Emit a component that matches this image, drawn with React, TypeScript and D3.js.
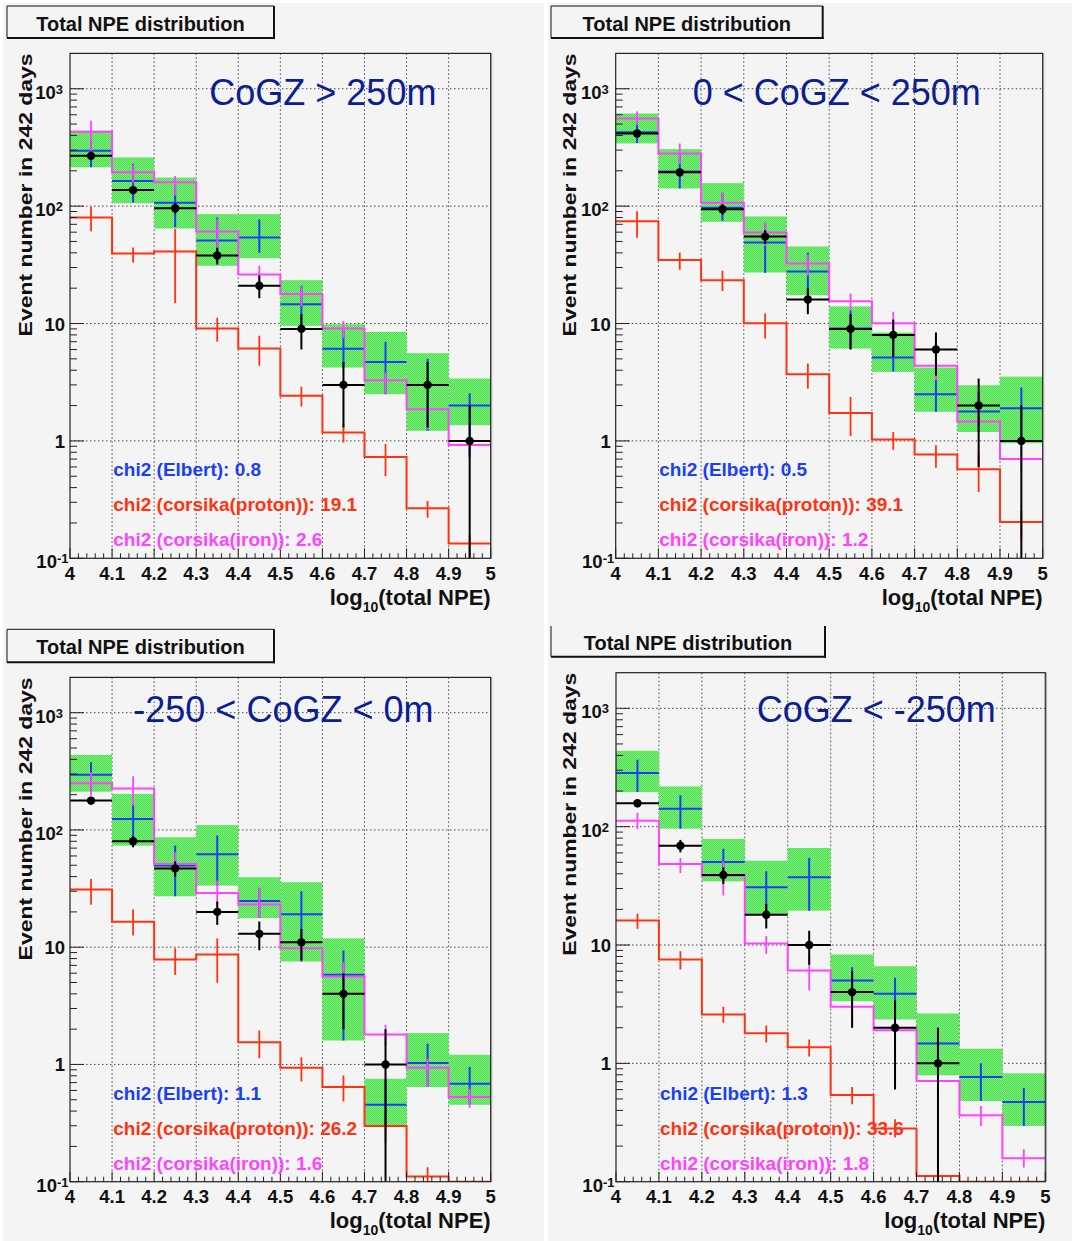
import React from 'react';
import * as d3 from 'd3';

// ---------- shared axis values ----------
const binEdges = [4.0, 4.1, 4.2, 4.3, 4.4, 4.5, 4.6, 4.7, 4.8, 4.9, 5.0];
const xTickLabels = ['4', '4.1', '4.2', '4.3', '4.4', '4.5', '4.6', '4.7', '4.8', '4.9', '5'];
const yMajorTicks = [0.1, 1, 10, 100, 1000];
const yMajorLabels: [string, string][] = [['10', '-1'], ['1', ''], ['10', ''], ['10', '2'], ['10', '3']];
const yDomain = [0.1, 2000];
const titleText = 'Total NPE distribution';
const yTitle = 'Event number in 242 days';
const chi2Names = ['chi2 (Elbert): ', 'chi2 (corsika(proton)): ', 'chi2 (corsika(iron)): '];
const regionLabels = ['CoGZ > 250m', '0 < CoGZ < 250m', '-250 < CoGZ < 0m', 'CoGZ < -250m'];

// ---------- panel 1: CoGZ > 250m ----------
const data1 = [268, 137, 96, 38, 21, 9, 3, 0, 3, 1];
const dataErr1 = [16.4, 11.7, 9.8, 6.2, 4.6, 3, 1.7, 0, 1.7, 1];
const elbert1 = [296, 164, 107, 51, 54, 14.6, 6.1, 4.7, 3.0, 2.0];
const elbertErr1 = [[214, 371], [107, 230], [66, 150], [33, 80], [40, 77], [9.5, 21], [4.2, 9], [2.5, 7.0], [1.22, 5.0], [0.72, 2.55]];
const band1 = [[214, 439], [106, 260], [64.5, 175], [31, 85.5], [36, 85.5], [9.55, 23.4], [4.22, 9.87], [2.5, 8.49], [1.22, 5.59], [1.36, 3.40]];
const proton1 = [80, 39.5, 41, 9.06, 6.12, 2.42, 1.18, 0.73, 0.267, 0.134];
const protonErr1 = [[61, 99], [33, 44.5], [14.9, 64], [7.0, 11.2], [4.36, 7.85], [1.96, 2.9], [0.97, 1.39], [0.5, 0.94], [0.222, 0.308], [0.1, 0.16]];
const iron1 = [430, 194, 160, 60.8, 26.2, 17.8, 9.06, 3.29, 1.86, 0.925];
const ironErr1 = [[296, 533], [159, 225], [123, 181], [40.3, 77.5], [21, 31], [14.1, 20.7], [7.5, 10.5], [2.5, 3.82], [1.26, 2.27], [0.745, 1.07]];
const chi2Values1 = [0.8, 19.1, 2.6];

// ---------- panel 2: 0 < CoGZ < 250m ----------
const data2 = [416, 194, 94, 55, 16, 9, 8, 6, 2, 1];
const dataErr2 = [20.4, 13.9, 9.7, 7.4, 4, 3, 2.8, 2.4, 1.4, 1];
const elbert2 = [425, 197, 97, 49, 27.7, 9.06, 5.13, 2.5, 1.78, 1.9];
const elbertErr2 = [[345, 520], [141, 280], [75, 130], [27, 70], [17.5, 40], [6.1, 13], [3.9, 7.5], [1.77, 3.5], [1.2, 2.6], [0.96, 2.85]];
const band2 = [[342, 616], [141.5, 306], [73.5, 157], [27.2, 81.7], [17.4, 45.3], [6.12, 14], [3.87, 8.38], [1.77, 4.22], [1.19, 2.98], [0.955, 3.53]];
const proton2 = [74.5, 34.7, 23.4, 10.07, 3.70, 1.73, 1.03, 0.765, 0.573, 0.204];
const protonErr2 = [[53.7, 90.6], [28.7, 40.3], [18.9, 28.1], [7.45, 12.2], [2.79, 4.56], [1.10, 2.37], [0.84, 1.19], [0.59, 0.92], [0.367, 0.80], [0.145, 0.253]];
const iron2 = [559, 281, 107, 59.7, 32.5, 15.5, 10.07, 4.36, 1.46, 0.70];
const ironErr2 = [[490, 641], [229, 342], [99, 131], [45.9, 73.5], [25.5, 39], [12.8, 18], [7.6, 12.6], [3.3, 5.66], [1.18, 1.86], [0.555, 0.906]];
const chi2Values2 = [0.5, 39.1, 1.2];

// ---------- panel 3: -250 < CoGZ < 0m ----------
const data3 = [178, 80, 47, 20, 13, 11, 4, 1, 0, 0];
const dataErr3 = [13.3, 8.9, 6.9, 4.5, 3.6, 3.3, 2, 1, 0, 0];
const elbert3 = [296, 124, 49.7, 62.1, 24.8, 19.1, 5.81, 0.453, 1.03, 0.684];
const elbertErr3 = [[212, 378], [73.5, 167], [27.2, 73.5], [33.5, 89.5], [17.7, 32], [7.55, 30], [1.6, 9.37], [0.302, 0.755], [0.641, 1.5], [0.453, 0.95]];
const band3 = [[212, 436], [73.5, 203], [27.2, 86.6], [33.5, 110], [17.7, 39.5], [7.55, 35.8], [1.6, 11.9], [0.302, 0.755], [0.641, 1.85], [0.453, 1.21]];
const proton3 = [31, 16.5, 7.85, 8.66, 1.55, 0.937, 0.641, 0.298, 0.111, 0.1];
const protonErr3 = [[23, 38.2], [12.6, 21], [5.8, 9.8], [4.97, 11.9], [1.13, 1.95], [0.716, 1.15], [0.484, 0.805], [0.218, 0.38], [0.1, 0.133], [0.1, 0.1]];
const iron3 = [250, 226, 51.3, 29, 23.1, 9.8, 5.62, 1.8, 0.937, 0.527];
const ironErr3 = [[196, 310], [161, 287], [40.8, 64.5], [23, 37], [17.7, 32.4], [7.55, 13], [4.2, 7.45], [1.45, 2.18], [0.641, 1.12], [0.425, 0.621]];
const chi2Values3 = [1.1, 26.2, 1.6];

// ---------- panel 4: CoGZ < -250m ----------
const data4 = [158, 69, 39, 18, 10, 4, 2, 1, 0, 0];
const dataErr4 = [12.6, 8.3, 6.2, 4.2, 3.2, 2, 1.4, 1, 0, 0];
const elbert4 = [284, 142, 50.4, 30.8, 37.3, 5.01, 3.88, 1.47, 0.766, 0.471];
const elbertErr4 = [[196, 368], [96, 184], [34.5, 65], [18.1, 42], [19.5, 54.5], [3.36, 6.5], [2.35, 5.29], [0.79, 2.0], [0.481, 1.0], [0.296, 0.62]];
const band4 = [[196, 438], [96.2, 219], [34.5, 78.8], [18.1, 51.6], [19.5, 66.1], [3.36, 8.31], [2.35, 6.62], [0.792, 2.64], [0.481, 1.33], [0.296, 0.824]];
const proton4 = [16.1, 7.55, 2.59, 1.80, 1.37, 0.54, 0.281, 0.112, 0.1, 0.1];
const protonErr4 = [[13.7, 18.4], [6.21, 8.87], [2.2, 3.01], [1.5, 2.09], [1.14, 1.59], [0.451, 0.631], [0.236, 0.337], [0.1, 0.136], [0.1, 0.1], [0.1, 0.1]];
const iron4 = [112, 48.4, 38.6, 10.3, 6.09, 3.01, 1.90, 0.709, 0.364, 0.158];
const ironErr4 = [[95.6, 131], [40.6, 54.4], [26.2, 51], [8.43, 11.9], [4.13, 8.04], [2.0, 3.82], [1.5, 2.35], [0.575, 0.861], [0.296, 0.436], [0.132, 0.188]];
const chi2Values4 = [1.3, 33.6, 1.8];

// ---------- layout (positions / styles only) ----------
const FONT = '"Liberation Sans", Arial, Helvetica, sans-serif';
const C_BLUE = '#1a40f5';
const C_RED = '#ff3311';
const C_MAG = '#ff44ff';
const C_NAVY = '#0b2090';

const layouts = [
  { x0: 70, x1: 490.7, y0: 53.4, y1: 558.3, box: { x: 7, y: 6, w: 267, h: 32, top: true }, titleY: 30.7, yTitleX: 32, region: { x: 209.3, y: 105 }, chi2X: 113.3 },
  { x0: 615.7, x1: 1042.7, y0: 53.4, y1: 558.3, box: { x: 551, y: 6, w: 271.7, h: 32, top: true }, titleY: 30.7, yTitleX: 575.5, region: { x: 692.7, y: 105 }, chi2X: 659.3 },
  { x0: 70, x1: 490.7, y0: 677.4, y1: 1181.7, box: { x: 7, y: 629.3, w: 267, h: 33, top: true }, titleY: 654, yTitleX: 31.5, region: { x: 133.3, y: 721.7 }, chi2X: 113.3 },
  { x0: 616, x1: 1045.3, y0: 672.7, y1: 1181.7, box: { x: 551, y: 626, w: 274, h: 30.7, top: false }, titleY: 650, yTitleX: 576, region: { x: 756.7, y: 721.7 }, chi2X: 660 },
];

const panels = [
  { data: data1, dataErr: dataErr1, elbert: elbert1, elbertErr: elbertErr1, band: band1, proton: proton1, protonErr: protonErr1, iron: iron1, ironErr: ironErr1, chi2: chi2Values1, region: regionLabels[0] },
  { data: data2, dataErr: dataErr2, elbert: elbert2, elbertErr: elbertErr2, band: band2, proton: proton2, protonErr: protonErr2, iron: iron2, ironErr: ironErr2, chi2: chi2Values2, region: regionLabels[1] },
  { data: data3, dataErr: dataErr3, elbert: elbert3, elbertErr: elbertErr3, band: band3, proton: proton3, protonErr: protonErr3, iron: iron3, ironErr: ironErr3, chi2: chi2Values3, region: regionLabels[2] },
  { data: data4, dataErr: dataErr4, elbert: elbert4, elbertErr: elbertErr4, band: band4, proton: proton4, protonErr: protonErr4, iron: iron4, ironErr: ironErr4, chi2: chi2Values4, region: regionLabels[3] },
];

function Panel({ L, P, idx }: any) {
  const x = d3.scaleLinear().domain([4, 5]).range([L.x0, L.x1]);
  const y = d3.scaleLog().domain(yDomain).range([L.y1, L.y0]).clamp(true);
  const centers = d3.pairs(binEdges).map(([a, b]) => (a + b) / 2);
  const clipId = `clip${idx}`;

  const step = (vals: number[]) => {
    const pts: [number, number][] = vals.map((v, i) => [binEdges[i], v]);
    pts.push([binEdges[binEdges.length - 1], vals[vals.length - 1]]);
    return d3.line<[number, number]>().x(d => x(d[0])).y(d => y(Math.max(d[1], 0.1))).curve(d3.curveStepAfter)(pts) || '';
  };

  const minorY: number[] = [];
  yMajorTicks.forEach(d => { for (let k = 2; k <= 9; k++) { const v = k * d; if (v < yDomain[1]) minorY.push(v); } });
  const minorX = d3.range(0, 51).map(i => 4 + i * 0.02);

  const colors = [C_BLUE, C_RED, C_MAG];

  return (
    <g>
      <defs>
        <clipPath id={clipId}><rect x={L.x0} y={L.y0} width={L.x1 - L.x0} height={L.y1 - L.y0} /></clipPath>
      </defs>
      {/* title box */}
      <g>
        <rect x={L.box.x} y={L.box.y} width={L.box.w} height={L.box.h} fill="#f4f4f4" stroke="none" />
        {L.box.top && <line x1={L.box.x} x2={L.box.x + L.box.w} y1={L.box.y} y2={L.box.y} stroke="#111" strokeWidth={1} />}
        <line x1={L.box.x} x2={L.box.x} y1={L.box.y} y2={L.box.y + L.box.h} stroke="#111" strokeWidth={1} />
        <line x1={L.box.x + L.box.w} x2={L.box.x + L.box.w} y1={L.box.y} y2={L.box.y + L.box.h + 1} stroke="#111" strokeWidth={2} />
        <line x1={L.box.x} x2={L.box.x + L.box.w + 1} y1={L.box.y + L.box.h} y2={L.box.y + L.box.h} stroke="#111" strokeWidth={2} />
        <text x={L.box.x + L.box.w / 2} y={L.titleY} textAnchor="middle" fontFamily={FONT} fontWeight="bold" fontSize={20} fill="#111">{titleText}</text>
      </g>

      {/* grid */}
      <g stroke="#444" strokeWidth={1} strokeDasharray="1.5 2.5">
        {binEdges.slice(1, -1).map((v, i) => <line key={'gx' + i} x1={x(v)} x2={x(v)} y1={L.y0} y2={L.y1} />)}
        {yMajorTicks.slice(1).map((v, i) => <line key={'gy' + i} x1={L.x0} x2={L.x1} y1={y(v)} y2={y(v)} />)}
      </g>

      <g clipPath={`url(#${clipId})`}>
        {/* Elbert systematic band */}
        {P.band.map((b: number[], i: number) => (
          <rect key={'b' + i} x={x(binEdges[i])} width={x(binEdges[i + 1]) - x(binEdges[i])} y={y(b[1])} height={y(b[0]) - y(b[1])} fill="url(#greenDither)" />
        ))}
        {/* Elbert */}
        {P.elbert.map((v: number, i: number) => (
          <g key={'e' + i} stroke={C_BLUE} strokeWidth={2}>
            <line x1={x(binEdges[i])} x2={x(binEdges[i + 1])} y1={y(v)} y2={y(v)} />
            <line x1={x(centers[i])} x2={x(centers[i])} y1={y(P.elbertErr[i][0])} y2={y(P.elbertErr[i][1])} />
          </g>
        ))}
        {/* proton */}
        <path d={step(P.proton)} fill="none" stroke={C_RED} strokeWidth={2} />
        {P.protonErr.map((e: number[], i: number) => (
          <line key={'pe' + i} x1={x(centers[i])} x2={x(centers[i])} y1={y(e[0])} y2={y(e[1])} stroke={C_RED} strokeWidth={1.8} />
        ))}
        {/* iron */}
        <path d={step(P.iron)} fill="none" stroke={C_MAG} strokeWidth={2} />
        {P.ironErr.map((e: number[], i: number) => (
          <line key={'ie' + i} x1={x(centers[i])} x2={x(centers[i])} y1={y(e[0])} y2={y(e[1])} stroke={C_MAG} strokeWidth={1.8} />
        ))}
        {/* data */}
        {P.data.map((v: number, i: number) => v > 0 && (
          <g key={'d' + i} stroke="#000" strokeWidth={2}>
            <line x1={x(binEdges[i])} x2={x(binEdges[i + 1])} y1={y(v)} y2={y(v)} />
            <line x1={x(centers[i])} x2={x(centers[i])} y1={y(Math.max(v - P.dataErr[i], 0.01))} y2={y(v + P.dataErr[i])} />
            <circle cx={x(centers[i])} cy={y(v)} r={4.2} fill="#000" stroke="none" />
          </g>
        ))}
      </g>

      {/* frame */}
      <rect x={L.x0} y={L.y0} width={L.x1 - L.x0} height={L.y1 - L.y0} fill="none" stroke="#222" strokeWidth={1.2} />
      <line x1={L.x1 + 1} x2={L.x1 + 1} y1={L.y0} y2={L.y1} stroke="#999" strokeWidth={1} />

      {/* y ticks */}
      <g stroke="#222" strokeWidth={1}>
        {yMajorTicks.map((v, i) => <line key={'ym' + i} x1={L.x0} x2={L.x0 + 14} y1={y(v)} y2={y(v)} />)}
        {minorY.map((v, i) => <line key={'yn' + i} x1={L.x0} x2={L.x0 + 7} y1={y(v)} y2={y(v)} />)}
      </g>
      {/* x ticks */}
      <g stroke="#222" strokeWidth={1}>
        {minorX.map((v, i) => <line key={'xn' + i} x1={x(v)} x2={x(v)} y1={L.y1} y2={L.y1 - (i % 5 === 0 ? 10 : 5)} />)}
      </g>

      {/* y tick labels */}
      {yMajorTicks.map((v, i) => {
        const [base, exp] = yMajorLabels[i];
        if (!exp) {
          return <text key={'yl' + i} x={L.x0 - 5} y={y(v) + 7} textAnchor="end" fontFamily={FONT} fontWeight="bold" fontSize={18.5} fill="#111">{base}</text>;
        }
        return (
          <text key={'yl' + i} x={L.x0 - (exp.length > 1 ? 1.5 : 7)} y={y(v) + 10} textAnchor="end" fontFamily={FONT} fontWeight="bold" fontSize={18.5} fill="#111">
            {base}<tspan dy={-5} fontSize={13}>{exp}</tspan>
          </text>
        );
      })}
      {/* x tick labels */}
      {binEdges.map((v, i) => (
        <text key={'xl' + i} x={x(v)} y={L.y1 + 21.7} textAnchor="middle" fontFamily={FONT} fontWeight="bold" fontSize={18.5} fill="#111">{xTickLabels[i]}</text>
      ))}
      {/* x title */}
      <text x={L.x1} y={L.y1 + 46.7} textAnchor="end" fontFamily={FONT} fontWeight="bold" fontSize={22} fill="#111">
        log<tspan dy={7} fontSize={14}>10</tspan><tspan dy={-7}>(total NPE)</tspan>
      </text>
      {/* y title */}
      <text transform={`translate(${L.yTitleX},${L.y0}) rotate(-90)`} textAnchor="end" fontFamily={FONT} fontWeight="bold" fontSize={19} fill="#111" textLength={283} lengthAdjust="spacingAndGlyphs">{yTitle}</text>

      {/* region label */}
      <text x={L.region.x} y={L.region.y} fontFamily={FONT} fontSize={36} fill={C_NAVY}>{P.region}</text>

      {/* chi2 texts */}
      {P.chi2.map((c: number, i: number) => (
        <text key={'c' + i} x={L.chi2X} y={L.y1 - 82 + i * 35} fontFamily={FONT} fontWeight="bold" fontSize={19} fill={colors[i]}>{chi2Names[i] + c.toFixed(1)}</text>
      ))}
    </g>
  );
}

export default function App() {
  return (
    <svg width={1072} height={1241} style={{ position: 'absolute', left: 0, top: 0, background: '#fff' }}>
      <defs>
        <pattern id="greenDither" width={2} height={2} patternUnits="userSpaceOnUse">
          <rect width={2} height={2} fill="#7cf07c" />
          <rect x={0} y={0} width={1} height={1} fill="#4fdc4f" />
          <rect x={1} y={1} width={1} height={1} fill="#4fdc4f" />
        </pattern>
      </defs>
      <rect x={0} y={0} width={1072} height={1241} fill="#fff" />
      <rect x={3} y={3} width={541} height={1238} fill="#f4f4f4" />
      <rect x={548} y={3} width={524} height={1238} fill="#f4f4f4" />
      {layouts.map((L, i) => <Panel key={i} L={L} P={panels[i]} idx={i} />)}
    </svg>
  );
}
